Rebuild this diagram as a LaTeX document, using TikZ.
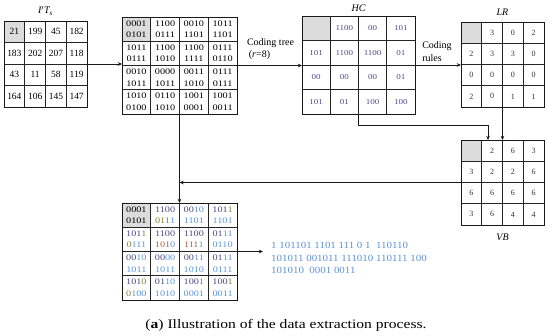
\documentclass[tikz,border=0pt]{standalone}
\usepackage{fontspec}
\setmainfont{Liberation Serif}
\newfontfamily\wideserif[FakeStretch=1.2]{Liberation Serif}
\newfontfamily\bitsfont[FakeStretch=1.15]{Liberation Serif}
\newfontfamily\capfont[FakeStretch=1.2]{Liberation Serif}
\usetikzlibrary{arrows.meta}
\definecolor{cellgray}{HTML}{DCDCDC}
\definecolor{hcc}{HTML}{4A4A8C}
\definecolor{lrola}{HTML}{8C8232}
\definecolor{lrorb}{HTML}{B4643C}
\definecolor{vbl}{HTML}{5C96E0}
\definecolor{bitc}{HTML}{5C92DC}
\newcommand\bH[1]{\textcolor{hcc}{#1}}
\newcommand\bL[1]{\textcolor{lrola}{#1}}
\newcommand\bO[1]{\textcolor{lrorb}{#1}}
\newcommand\bV[1]{\textcolor{vbl}{#1}}
% #1 name, #2 left, #3 top, #4 cell width, #5 cell height
\newcommand\mktable[5]{%
  \fill[cellgray] (#2,#3) rectangle ++(#4,#5);
  \foreach \i in {1,2,3}{%
    \draw[gridline] ({#2+\i*#4},#3) -- ++(0,{4*#5});
    \draw[gridline] (#2,{#3+\i*#5}) -- ++({4*#4},0);
  }%
  \node[frame, minimum width={4*#4 pt}, minimum height={4*#5 pt}, anchor=north west] (#1) at (#2,#3) {};
}
% #1 name, #2 left, #3 top, #4 w, #5 h, #6 style, #7 list
\newcommand\fillcells[7]{%
  \foreach \c [count=\k from 0] in {#7}{%
    \pgfmathtruncatemacro\rr{floor(\k/4)}%
    \pgfmathtruncatemacro\cc{mod(\k,4)}%
    \node[#6] (#1-\rr-\cc) at ({#2+(\cc+0.5)*#4},{#3+(\rr+0.5)*#5}) {\c};
  }%
}
\begin{document}
\begin{tikzpicture}[x=1pt,y=-1pt,
  gridline/.style={line width=0.55pt, draw=black!85},
  frame/.style={draw=black!90, line width=0.85pt, inner sep=0pt, outer sep=0pt, rectangle},
  conn/.style={line width=0.75pt, draw=black!90},
  arr/.style={conn, -{Stealth[length=4.2pt,width=3.6pt]}},
  numtxt/.style={inner sep=0pt, font=\fontsize{9.5}{11}\selectfont},
  bintxt/.style={inner sep=0pt, align=center, font=\wideserif\fontsize{8.5}{11.5}\selectfont},
  hctxt/.style={inner sep=0pt, text=hcc, font=\wideserif\fontsize{7.5}{9}\selectfont},
  lrtxt/.style={inner sep=0pt, text=black!80, font=\fontsize{8}{9}\selectfont},
  ttl/.style={inner sep=0pt, font=\fontsize{10}{12}\selectfont\itshape},
  lbl/.style={inner sep=0pt, font=\fontsize{10}{12}\selectfont},
]
\useasboundingbox (0,0) rectangle (550,336);
\fill[white] (0,0) rectangle (550,336);

% tables
\mktable{t1}{4}{21}{20.75}{21.5}
\mktable{t2}{122}{17}{28.75}{24.25}
\mktable{hc}{302}{16}{28.25}{24.5}
\mktable{lr}{461}{22}{20.75}{21.25}
\mktable{vb}{461}{140}{20.75}{21.25}
\mktable{t3}{122}{203}{28.75}{24.25}

% contents
\fillcells{t1}{4}{21}{20.75}{21.5}{numtxt}{21,199,45,182,183,202,207,118,43,11,58,119,164,106,145,147}
\fillcells{t2}{122}{17}{28.75}{24.25}{bintxt}{{0001\\0101},{1100\\0111},{0010\\1101},{1011\\1101},
  {1011\\0111},{1100\\1010},{1100\\1111},{0111\\0110},
  {0010\\1011},{0000\\1011},{0011\\1010},{0111\\0111},
  {1010\\0100},{0110\\1010},{1001\\0001},{1001\\0011}}
\fillcells{hc}{302}{16}{28.25}{24.5}{hctxt}{{},1100,00,101,101,1100,1100,01,00,00,00,01,101,01,100,100}
\fillcells{lr}{461}{22}{20.75}{21.25}{lrtxt}{{},3,0,2,2,3,3,0,0,0,0,0,2,0,1,1}
\fillcells{vb}{461}{140}{20.75}{21.25}{lrtxt}{{},2,6,3,3,2,2,6,6,6,6,6,3,6,4,4}
\fillcells{t3}{122}{203}{28.75}{24.25}{bintxt}{{0001\\0101},{\bH{1100}\\\bL{011}\bV{1}},{\bH{00}\bV{10}\\\bV{1101}},{\bH{101}\bL{1}\\\bV{1101}},
  {\bH{101}\bL{1}\\\bL{0}\bV{111}},{\bH{1100}\\\bO{101}\bV{0}},{\bH{1100}\\\bO{111}\bV{1}},{\bH{01}\bV{11}\\\bV{0110}},
  {\bH{00}\bV{10}\\\bV{1011}},{\bH{00}\bV{00}\\\bV{1011}},{\bH{00}\bV{11}\\\bV{1010}},{\bH{01}\bV{11}\\\bV{0111}},
  {\bH{101}\bL{0}\\\bL{0}\bV{100}},{\bH{01}\bV{10}\\\bV{1010}},{\bH{100}\bL{1}\\\bV{0001}},{\bH{100}\bL{1}\\\bV{0011}}}

% titles
\node[ttl] (t1title) at (45.5,11) {I$'$T\textsubscript{s}};
\node[ttl] (hctitle) at (358.5,8.5) {HC};
\node[ttl] (lrtitle) at (502.5,12) {LR};
\node[ttl] (vbtitle) at (502.5,237) {VB};

% labels
\node[lbl] (ctree) at (270.5,43) {Coding tree};
\node[lbl] (rlab) at (259.5,55) {(\textit{r}=8)};
\node[lbl, align=left, font=\fontsize{10}{13}\selectfont] (crules) at (437,51.5) {Coding\\rules};

% connectors
\draw[arr] (t1.east) -- (t1.east -| t2.west);
\draw[arr] (t2.east) -- (t2.east -| hc.west);
\draw[arr] (hc.east) -- (hc.east -| lr.west);
\draw[arr] (lr.south) -- (vb.north);
\coordinate (vbin) at (488,140);
\draw[arr] (hc.south) -- ++(0,11) -| (vbin);
\draw[arr] (vb.west) -- (vb.west -| t2.south);
\draw[arr] (t2.south) -- (t3.north);

% extracted bits
\node[inner sep=0pt, anchor=west, align=left, text=bitc, font=\bitsfont\fontsize{9.5}{12.5}\selectfont] (bits) at (271,258)
  {1 101101 1101 111 0 1\ \ 110110\\101011 001011 111010 110111 100\\101010\ \ 0001 0011};
\draw[arr, shorten >=8pt] (t3.east) -- (t3.east -| bits.west);

% caption
\node[inner sep=0pt, font=\capfont\fontsize{13}{15}\selectfont] (cap) at (286,325) {(\textbf{a}) Illustration of the data extraction process.};
\end{tikzpicture}
\end{document}
